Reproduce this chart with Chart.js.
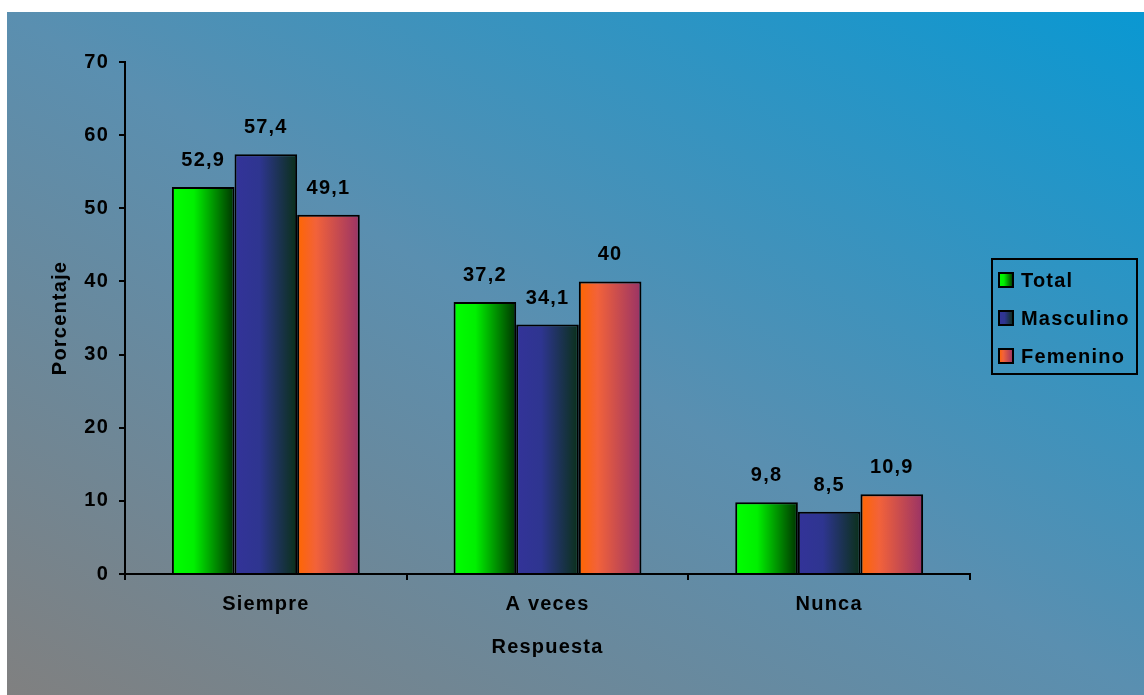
<!DOCTYPE html>
<html>
<head>
<meta charset="utf-8">
<script src="https://cdn.jsdelivr.net/npm/chart.js@4.4.0/dist/chart.umd.min.js"></script>
<style>
    html, body { margin: 0; padding: 0; background: #fff; }
    #wrap {
        position: absolute; left: 7px; top: 12px; width: 1137px; height: 683px;
        background: linear-gradient(to top right, #808080 0%, #5a8fb0 50%, #0a98d2 100%);
    }
</style>
</head>
<body>
<div id="wrap"><canvas id="respChart" width="1137" height="683"></canvas></div>
<script>
const categories = ['Siempre', 'A veces', 'Nunca'];
const seriesNames = ['Total', 'Masculino', 'Femenino'];
const totalValues = [52.9, 37.2, 9.8];
const masculinoValues = [57.4, 34.1, 8.5];
const femeninoValues = [49.1, 40, 10.9];
const yTicks = [0, 10, 20, 30, 40, 50, 60, 70];

const FONT = { family: '"Liberation Sans", Arial, sans-serif', size: 20, weight: 'bold' };
const SPACING = '1.2px';

// degradado horizontal de cada serie: [posicion, color]
const gradStops = [
    [[0, '#00ff00'], [0.35, '#00f000'], [1, '#003300']],   // Total
    [[0, '#333399'], [0.4, '#2e3590'], [1, '#0a3018']],    // Masculino
    [[0, '#ff6600'], [0.3, '#f2623a'], [1, '#993366']]     // Femenino
];

function makeGrad(ctx, x0, x1, stops) {
    const g = ctx.createLinearGradient(x0, 0, x1, 0);
    stops.forEach(s => g.addColorStop(s[0], s[1]));
    return g;
}

function fmt(v) {
    return String(v).replace('.', ',');
}

// pinta cada barra con su degradado, etiquetas y leyenda
const barGradients = {
    id: 'barGradients',
    beforeDraw(chart) {
        chart.ctx.letterSpacing = SPACING;
    },
    beforeDatasetsDraw(chart) {
        const ctx = chart.ctx;
        chart.data.datasets.forEach((ds, i) => {
            chart.getDatasetMeta(i).data.forEach(bar => {
                const g = makeGrad(ctx, bar.x - bar.width / 2, bar.x + bar.width / 2, gradStops[i]);
                bar.options = Object.assign({}, bar.options, { backgroundColor: g });
            });
        });
    },
    afterDatasetsDraw(chart) {
        const ctx = chart.ctx;
        ctx.save();
        ctx.letterSpacing = SPACING;
        ctx.font = `${FONT.weight} ${FONT.size}px ${FONT.family}`;
        ctx.fillStyle = '#000';
        ctx.textAlign = 'center';
        ctx.textBaseline = 'alphabetic';
        chart.data.datasets.forEach((ds, i) => {
            chart.getDatasetMeta(i).data.forEach((bar, j) => {
                ctx.fillText(fmt(ds.data[j]), bar.x, bar.y - 21);
            });
        });
        ctx.restore();
    },
    afterDraw(chart) {
        // leyenda con marco
        const ctx = chart.ctx;
        ctx.save();
        ctx.letterSpacing = SPACING;
        ctx.strokeStyle = '#000';
        ctx.lineWidth = 2;
        ctx.strokeRect(985, 247, 145, 115);
        ctx.font = `${FONT.weight} ${FONT.size}px ${FONT.family}`;
        ctx.textAlign = 'left';
        ctx.textBaseline = 'middle';
        seriesNames.forEach((name, i) => {
            const cy = 268 + i * 38;
            ctx.fillStyle = makeGrad(ctx, 992, 1006, gradStops[i]);
            ctx.fillRect(992, cy - 7, 14, 14);
            ctx.lineWidth = 2;
            ctx.strokeRect(992, cy - 7, 14, 14);
            ctx.fillStyle = '#000';
            ctx.fillText(name, 1014, cy + 1);
        });
        ctx.restore();
    }
};

document.addEventListener('DOMContentLoaded', function () {
    const ctx = document.getElementById('respChart').getContext('2d');

    const axisGrid = {
        display: true,
        drawOnChartArea: false,
        drawTicks: true,
        tickLength: 6,
        color: '#000',
        lineWidth: 2
    };

    new Chart(ctx, {
        type: 'bar',
        data: {
            labels: categories,
            datasets: [
                { label: seriesNames[0], data: totalValues },
                { label: seriesNames[1], data: masculinoValues },
                { label: seriesNames[2], data: femeninoValues }
            ].map(d => Object.assign(d, {
                backgroundColor: '#888',
                borderColor: '#000',
                borderWidth: 2,
                categoryPercentage: 0.667,
                barPercentage: 1
            }))
        },
        options: {
            responsive: false,
            animation: false,
            layout: { padding: { left: 0, top: 50, right: 174, bottom: 0 } },
            plugins: {
                legend: { display: false },
                tooltip: { enabled: false }
            },
            scales: {
                x: {
                    grid: Object.assign({ offset: true }, axisGrid),
                    border: { display: true, color: '#000', width: 2 },
                    ticks: { color: '#000', font: FONT, padding: 12 },
                    title: {
                        display: true,
                        text: 'Respuesta',
                        color: '#000',
                        font: FONT,
                        padding: { top: 0, bottom: 36 }
                    },
                    afterFit: s => { s.height = 121; }
                },
                y: {
                    min: 0,
                    max: 70,
                    grid: axisGrid,
                    border: { display: true, color: '#000', width: 2 },
                    ticks: { color: '#000', font: FONT, padding: 10, stepSize: 10 },
                    afterBuildTicks: s => { s.ticks = yTicks.map(v => ({ value: v })); },
                    title: {
                        display: true,
                        text: 'Porcentaje',
                        color: '#000',
                        font: FONT,
                        padding: { top: 41, bottom: 0 }
                    },
                    afterFit: s => { s.width = 118; }
                }
            }
        },
        plugins: [barGradients]
    });
});
</script>
</body>
</html>
